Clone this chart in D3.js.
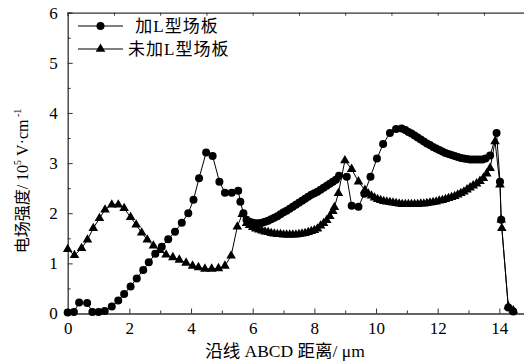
<!DOCTYPE html>
<html lang="zh">

<head>
    <meta charset="UTF-8">
    <title>电场强度</title>
    <script src="https://d3js.org/d3.v7.min.js"></script>
    <style>
        body {
            margin: 0;
            background: white;
        }

        svg text {
            font-family: "Liberation Serif", "Times New Roman", "Noto Sans CJK SC", serif;
            fill: black;
        }
    </style>
</head>

<body>
    <svg width="524" height="364"></svg>

    <script>
        // 加L型场板 (circles)
        const withLX = [0.0, 0.2, 0.37, 0.63, 0.80, 1.0, 1.2, 1.43, 1.64, 1.83, 2.04, 2.24, 2.45, 2.63, 2.84,
            3.05, 3.26, 3.48, 3.70, 3.91, 4.08, 4.26, 4.49, 4.70, 4.92, 5.10, 5.32, 5.53, 5.60, 5.70,
            5.80, 5.9, 6.0, 6.1, 6.2, 6.3, 6.4, 6.5, 6.6, 6.7, 6.8, 6.9, 7.0, 7.1, 7.2, 7.3, 7.4, 7.5,
            7.6, 7.7, 7.8, 7.9, 8.0, 8.1, 8.2, 8.3, 8.4, 8.5, 8.6, 8.7, 8.8,
            9.05, 9.21, 9.43, 9.62, 9.82, 10.03, 10.23, 10.45, 10.65, 10.83,
            10.95, 11.05, 11.15, 11.25, 11.35, 11.45, 11.55, 11.65, 11.75, 11.85, 11.95, 12.05, 12.15,
            12.25, 12.35, 12.45, 12.55, 12.65, 12.75, 12.85, 12.95, 13.05, 13.15, 13.25, 13.35, 13.45,
            13.55, 13.70, 13.91, 14.02, 14.06, 14.29, 14.45];
        const withLY = [0.02, 0.03, 0.22, 0.21, 0.03, 0.03, 0.05, 0.14, 0.26, 0.39, 0.54, 0.70, 0.87, 1.02, 1.19,
            1.33, 1.48, 1.63, 1.81, 2.00, 2.27, 2.70, 3.21, 3.14, 2.63, 2.41, 2.41, 2.45, 2.23, 2.00,
            1.87, 1.83, 1.81, 1.80, 1.80, 1.81, 1.83, 1.85, 1.88, 1.91, 1.94, 1.98, 2.02, 2.05, 2.09, 2.13, 2.17, 2.21,
            2.25, 2.29, 2.33, 2.37, 2.40, 2.43, 2.47, 2.51, 2.55, 2.59, 2.63, 2.67, 2.75,
            2.73, 2.15, 2.13, 2.39, 2.73, 3.09, 3.38, 3.60, 3.68, 3.69,
            3.66, 3.62, 3.59, 3.55, 3.51, 3.47, 3.43, 3.39, 3.36, 3.32, 3.29, 3.26, 3.23,
            3.20, 3.18, 3.16, 3.14, 3.12, 3.10, 3.09, 3.08, 3.07, 3.07, 3.07, 3.07, 3.07,
            3.09, 3.15, 3.60, 2.63, 1.87, 0.12, 0.04];

        // 未加L型场板 (triangles)
        const noLX = [0.0, 0.22, 0.45, 0.64, 0.83, 1.03, 1.21, 1.43, 1.64, 1.83, 2.04, 2.22, 2.40, 2.58, 2.78,
            2.99, 3.19, 3.41, 3.62, 3.84, 4.05, 4.24, 4.45, 4.67, 4.89, 5.10, 5.30, 5.50, 5.66,
            5.8, 5.9, 6.0, 6.1, 6.2, 6.3, 6.4, 6.5, 6.6, 6.7, 6.8, 6.9, 7.0, 7.1, 7.2, 7.3, 7.4, 7.5,
            7.6, 7.7, 7.8, 7.9, 8.0, 8.1, 8.2, 8.3, 8.4, 8.5, 8.6, 8.65, 8.78, 8.99, 9.21, 9.43, 9.64,
            9.75, 9.85, 9.95, 10.05, 10.15, 10.25, 10.35, 10.45, 10.55, 10.65, 10.75, 10.85, 10.95,
            11.05, 11.15, 11.25, 11.35, 11.45, 11.55, 11.65, 11.75, 11.85, 11.95, 12.05, 12.15, 12.25,
            12.35, 12.45, 12.55, 12.65, 12.75, 12.85, 12.95, 13.05, 13.15, 13.26, 13.37, 13.48, 13.59,
            13.70, 13.86, 14.02, 14.06, 14.08, 14.29, 14.45];
        const noLY = [1.28, 1.16, 1.30, 1.47, 1.70, 1.90, 2.07, 2.17, 2.17, 2.10, 1.92, 1.77, 1.61, 1.47, 1.35,
            1.26, 1.17, 1.12, 1.07, 1.01, 0.95, 0.92, 0.89, 0.89, 0.90, 0.95, 1.15, 1.73, 1.98,
            1.80, 1.76, 1.72, 1.69, 1.67, 1.65, 1.63, 1.62, 1.60, 1.59, 1.58, 1.58, 1.57, 1.57, 1.57, 1.57, 1.57, 1.58,
            1.59, 1.60, 1.62, 1.64, 1.66, 1.69, 1.75, 1.80, 1.86, 1.94, 2.04, 2.12, 2.40, 3.05, 2.88, 2.63, 2.46,
            2.39, 2.35, 2.31, 2.28, 2.26, 2.24, 2.23, 2.22, 2.21, 2.20, 2.19, 2.18, 2.18,
            2.18, 2.18, 2.18, 2.18, 2.19, 2.19, 2.20, 2.21, 2.22, 2.23, 2.25, 2.26, 2.28,
            2.30, 2.32, 2.34, 2.37, 2.40, 2.43, 2.47, 2.51, 2.55, 2.59, 2.64, 2.70, 2.79,
            2.90, 3.43, 2.57, 1.87, 1.70, 0.14, 0.06];

        const xTicks = [0, 2, 4, 6, 8, 10, 12, 14];
        const yTicks = [0, 1, 2, 3, 4, 5, 6];
        const legendLabels = [" 加L型场板", "未加L型场板"];

        const svg = d3.select("svg");
        const x = d3.scaleLinear().domain([0, 15]).range([67.7, 530.2]);
        const y = d3.scaleLinear().domain([0, 6]).range([313.5, 12.7]);

        const withL = withLX.map((v, i) => [v, withLY[i]]);
        const noL = noLX.map((v, i) => [v, noLY[i]]);

        // axes: ticks point inward
        const bottomAxis = svg.append("g").attr("transform", "translate(0,313.5)")
            .call(d3.axisBottom(x).tickValues(d3.range(0, 16, 1)).tickSize(-4).tickFormat(""));
        bottomAxis.selectAll(".tick line").attr("y2", d => d % 2 === 0 ? -5 : -3);
        svg.append("g").attr("class", "lbl").attr("transform", "translate(0,313.5)")
            .call(d3.axisBottom(x).tickValues(xTicks).tickSize(0).tickPadding(8).tickFormat(d3.format("d")))
            .call(g => g.select(".domain").remove());

        svg.append("g").attr("transform", "translate(0,12.7)")
            .call(d3.axisTop(x).tickValues(d3.range(0, 15.1, 1.5)).tickSize(-3).tickFormat(""));

        const leftAxis = svg.append("g").attr("transform", "translate(67.7,0)")
            .call(d3.axisLeft(y).tickValues(d3.range(0, 6.01, 0.5)).tickSize(-4).tickFormat(""));
        leftAxis.selectAll(".tick line").attr("x2", d => d % 1 === 0 ? 5 : 3);
        svg.append("g").attr("class", "lbl").attr("transform", "translate(67.7,0)")
            .call(d3.axisLeft(y).tickValues(yTicks).tickSize(0).tickPadding(10).tickFormat(d3.format("d")))
            .call(g => g.select(".domain").remove());

        svg.selectAll(".domain").attr("stroke", "#333").attr("stroke-width", 1.3);
        svg.selectAll(".tick line").attr("stroke", "#333");
        svg.selectAll(".lbl").attr("font-family", null).attr("font-size", 17);
        svg.selectAll(".lbl text").style("font-family", "'Liberation Serif', serif");

        // lines
        const line = d3.line().x(d => x(d[0])).y(d => y(d[1]));
        svg.append("path").datum(noL).attr("d", line)
            .attr("fill", "none").attr("stroke", "black").attr("stroke-width", 1);
        svg.append("path").datum(withL).attr("d", line)
            .attr("fill", "none").attr("stroke", "black").attr("stroke-width", 1);

        const tri = d3.symbol().type(d3.symbolTriangle).size(40);
        svg.append("g").selectAll("path").data(noL).join("path")
            .attr("transform", d => `translate(${x(d[0])},${y(d[1])})`)
            .attr("d", tri).attr("fill", "black");
        svg.append("g").selectAll("circle").data(withL).join("circle")
            .attr("cx", d => x(d[0])).attr("cy", d => y(d[1]))
            .attr("r", 4).attr("fill", "black");

        // legend
        const legend = svg.append("g");
        [26, 49].forEach((ly, i) => {
            legend.append("line").attr("x1", 78).attr("x2", 123).attr("y1", ly).attr("y2", ly)
                .attr("stroke", "black").attr("stroke-width", 1.2);
            if (i === 0) {
                legend.append("circle").attr("cx", 100.5).attr("cy", ly).attr("r", 4);
            } else {
                legend.append("path").attr("transform", `translate(100.5,${ly})`).attr("d", tri);
            }
            legend.append("text").attr("x", i === 0 ? 130 : 128).attr("y", ly + 6)
                .attr("font-size", 17).attr("letter-spacing", 1)
                .style("white-space", "pre")
                .text(legendLabels[i]);
        });

        // axis titles
        svg.append("text").attr("x", 285).attr("y", 357).attr("text-anchor", "middle")
            .attr("font-size", 17.5).style("white-space", "pre")
            .text("沿线 ABCD 距离/ μm");

        const yt = svg.append("text").attr("transform", "translate(28,181) rotate(-90)")
            .attr("text-anchor", "middle").attr("font-size", 16).style("white-space", "pre");
        yt.append("tspan").text("电场强度/ 10");
        yt.append("tspan").attr("dy", -7).attr("font-size", 10).text("5");
        yt.append("tspan").attr("dy", 7).text(" V·cm");
        yt.append("tspan").attr("dy", -7).attr("font-size", 10).text(" -1");
    </script>
</body>

</html>
